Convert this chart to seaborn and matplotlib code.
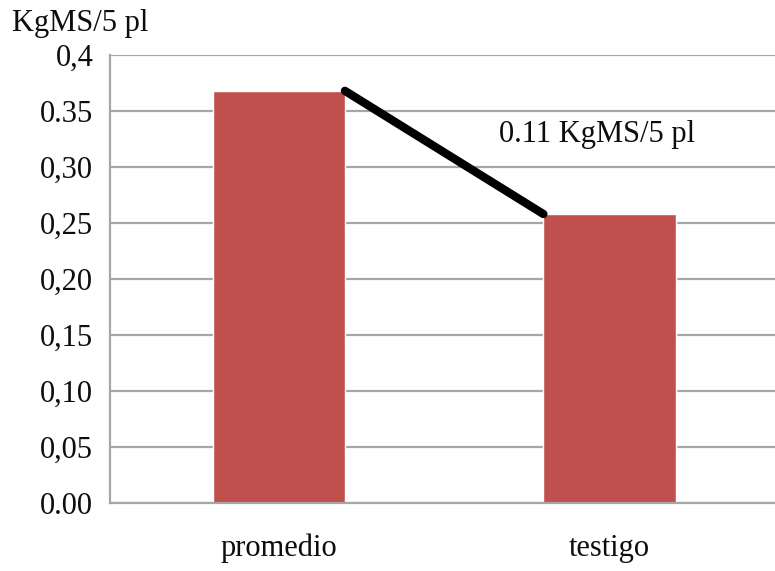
import matplotlib
matplotlib.use("Agg")
import matplotlib.pyplot as plt
import seaborn as sns
import pandas as pd

# Dry-matter yield per 5 plants
categories = ["promedio", "testigo"]
values = [0.368, 0.258]
tick_values = [0.0, 0.05, 0.10, 0.15, 0.20, 0.25, 0.30, 0.35, 0.40]
tick_labels = ["0.00", "0,05", "0,10", "0,15", "0,20", "0,25", "0,30", "0.35", "0,4"]
unit_label = "KgMS/5 pl"
diff_label = "0.11 KgMS/5 pl"

sns.set_style("white")
plt.rcParams["font.family"] = ["Liberation Serif", "DejaVu Serif"]

df = pd.DataFrame({"grupo": categories, "valor": values})

fig = plt.figure(figsize=(7.75, 5.71), dpi=100)
ax = fig.add_axes([110 / 775, 1 - 503 / 571, 665 / 775, 448 / 571])

grid_c = "#a6a6a6"
txt_c = "#0d0d0d"
fs = 22
ax.set_axisbelow(True)
for v in tick_values:
    ax.axhline(v, color=grid_c, lw=1.6, zorder=0)

sns.barplot(data=df, x="grupo", y="valor", color="#c0504d", width=0.40,
            saturation=1, ax=ax, zorder=2)

# connector between the two bar tops
bars = ax.patches
p0, p1 = bars[0], bars[1]
ax.plot([p0.get_x() + p0.get_width(), p1.get_x()],
        [p0.get_height(), p1.get_height()],
        color="black", lw=6, solid_capstyle="round", zorder=3)
ax.text(0.665, 0.329, diff_label, ha="left", va="center", fontsize=fs,
        color=txt_c)

ax.set_xlim(-0.51, 1.44)
ax.set_ylim(0, 0.4)
ax.set_yticks(tick_values)
ax.set_yticklabels(tick_labels, fontsize=fs, color=txt_c)
ax.set_xticks([0, 1])
ax.set_xticklabels(categories, fontsize=fs, color=txt_c)
ax.set_xticks([-0.5, 0.5, 1.5], minor=True)
ax.tick_params(axis="x", which="major", length=0, pad=22)
ax.tick_params(axis="x", which="minor", length=8, width=1.6, color=grid_c)
ax.tick_params(axis="y", length=8, width=1.6, color=grid_c, pad=4)
ax.set_xlabel("")
ax.set_ylabel("")

for side in ["top", "right"]:
    ax.spines[side].set_visible(False)
for side in ["left", "bottom"]:
    ax.spines[side].set_color(grid_c)
    ax.spines[side].set_linewidth(1.6)

fig.text(12 / 775, 1 - 24 / 571, unit_label, ha="left", va="center",
         fontsize=fs, color=txt_c)

fig.savefig("out.png", dpi=100)
